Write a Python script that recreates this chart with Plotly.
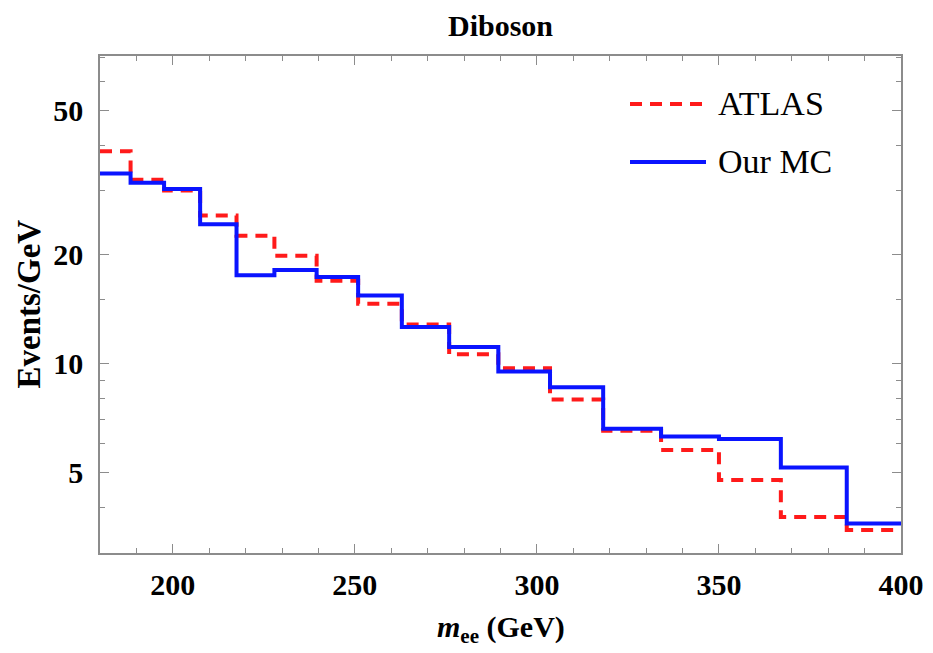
import plotly.graph_objects as go

# bin edges (GeV) and per-bin values (Events/GeV)
bin_edges = [180, 188.4, 197.6, 207.5, 217.5, 227.9, 239.5, 250.9, 262.9, 275.9,
             289.4, 303.6, 318.2, 334.1, 350.0, 367.0, 385.1, 400]
atlas = [38.5, 32.1, 30.0, 25.6, 22.5, 19.8, 16.9, 14.6, 12.8, 10.6,
         9.7, 7.95, 6.52, 5.77, 4.77, 3.77, 3.47]
our_mc = [33.4, 31.5, 30.3, 24.2, 17.5, 18.1, 17.3, 15.4, 12.6, 11.1,
          9.5, 8.6, 6.6, 6.29, 6.19, 5.16, 3.62]

x_ticks = [200, 250, 300, 350, 400]
y_ticks = [5, 10, 20, 50]
y_minor = [3, 4, 6, 7, 8, 9, 15, 30, 40, 60, 70]

FONT = "Liberation Serif"
AX = "#8c8c8c"

fig = go.Figure()
fig.add_trace(go.Scatter(x=bin_edges, y=atlas + [atlas[-1]], mode="lines",
                         line=dict(shape="hv", color="#ff1a1a", width=4, dash="12px,8px"),
                         name="ATLAS", showlegend=False))
fig.add_trace(go.Scatter(x=bin_edges, y=our_mc + [our_mc[-1]], mode="lines",
                         line=dict(shape="hv", color="#0a14ff", width=4),
                         name="Our MC", showlegend=False))

# page body has an 8px margin; work in page pixels and subtract it
OFF = 8
W, H = 933 - OFF, 653 - OFF
L, T = 100 - OFF, 56 - OFF
R = W - (901 - OFF)
B = H - (553 - OFF)
pw, ph = W - L - R, H - T - B

def px(xp):
    return (xp - 100) / pw

def py(yp):
    return (553 - yp) / ph

# legend drawn manually
fig.add_shape(type="line", xref="paper", yref="paper", x0=px(630), x1=px(706), y0=py(104), y1=py(104),
              line=dict(color="#ff1a1a", width=4, dash="12px,8px"))
fig.add_shape(type="line", xref="paper", yref="paper", x0=px(630), x1=px(706), y0=py(162), y1=py(162),
              line=dict(color="#0a14ff", width=4))
fig.add_annotation(xref="paper", yref="paper", x=px(716), y=py(104), xanchor="left", yanchor="middle",
                   text="ATLAS", showarrow=False, font=dict(family=FONT, size=34, color="black"))
fig.add_annotation(xref="paper", yref="paper", x=px(716), y=py(162), xanchor="left", yanchor="middle",
                   text="Our MC", showarrow=False, font=dict(family=FONT, size=34, color="black"))

# axis titles
fig.add_annotation(xref="paper", yref="paper", x=0.5, y=0, yanchor="middle", yshift=-(629 - 553),
                   text="<b><i>m</i><sub>ee</sub> (GeV)</b>", showarrow=False,
                   font=dict(family=FONT, size=30, color="black"))
fig.add_annotation(xref="paper", yref="paper", x=0, y=0.5, xanchor="center", xshift=28 - 100,
                   text="<b>Events/GeV</b>", textangle=-90, showarrow=False,
                   font=dict(family=FONT, size=33, color="black"))
# title
fig.add_annotation(xref="paper", yref="paper", x=0.5, y=1, yanchor="middle", yshift=56 - 25,
                   text="<b>Diboson</b>", showarrow=False,
                   font=dict(family=FONT, size=30, color="black"))

fig.update_layout(
    width=W, height=H,
    margin=dict(l=L, r=R, t=T, b=B),
    paper_bgcolor="white", plot_bgcolor="white",
    xaxis=dict(range=[180, 400], tickmode="array", tickvals=x_ticks, automargin=False,
               ticks="inside", ticklen=9, tickwidth=1.2, tickcolor=AX,
               showline=True, linecolor=AX, linewidth=1.5, mirror="ticks",
               showgrid=False, zeroline=False,
               tickfont=dict(family=FONT, size=30, color="black", weight="bold"),
               ticklabelstandoff=4,
               minor=dict(dtick=10, tick0=180, ticks="inside", ticklen=5, tickcolor=AX, showgrid=False)),
    yaxis=dict(type="log", range=[0.477, 1.848], tickmode="array", tickvals=y_ticks,
               ticktext=[str(v) for v in y_ticks], automargin=False,
               ticks="inside", ticklen=9, tickwidth=1.2, tickcolor=AX,
               showline=True, linecolor=AX, linewidth=1.5, mirror="ticks",
               showgrid=False, zeroline=False,
               tickfont=dict(family=FONT, size=30, color="black", weight="bold"),
               ticklabelstandoff=9,
               minor=dict(tickmode="array", tickvals=y_minor, ticks="inside", ticklen=5,
                          tickcolor=AX, showgrid=False)),
)

fig.write_html("out.html")
